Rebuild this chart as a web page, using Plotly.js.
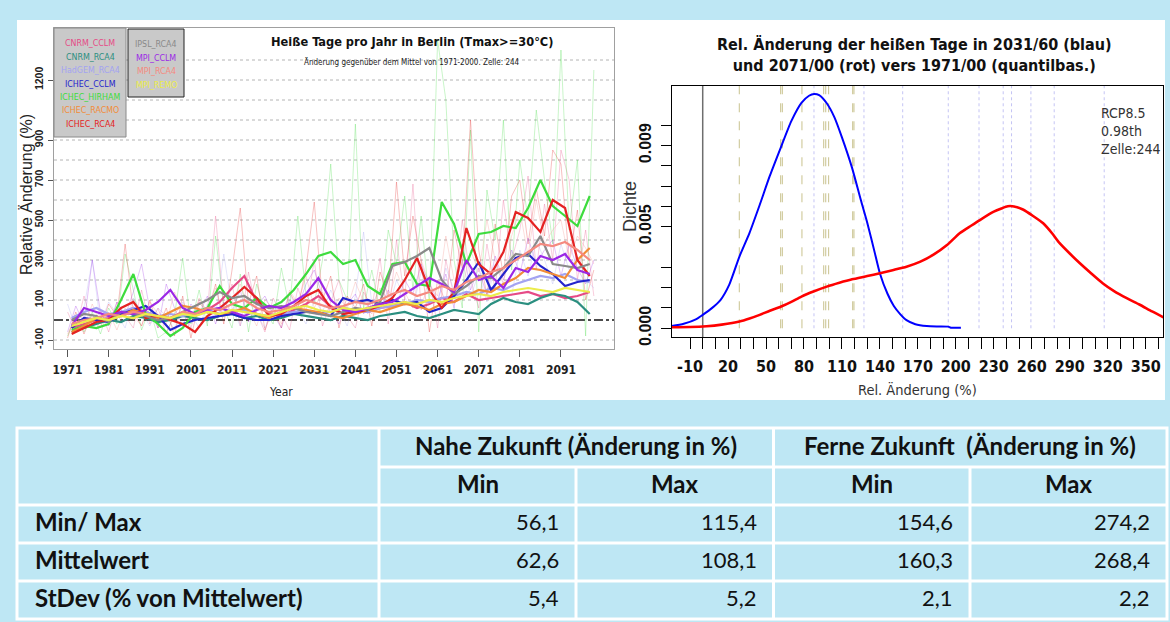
<!DOCTYPE html>
<html><head><meta charset="utf-8">
<script src="https://cdn.plot.ly/plotly-3.0.1.min.js"></script>
<style>html,body{margin:0;padding:0;background:rgb(190,231,244);} #chart{width:1170px;height:622px;}</style>
</head><body><div id="chart"></div>
<script>
// ---------------- DATA ----------------
// Left chart: relative change of hot days (%), 11 regional models
const modelNames = ['CNRM_CCLM','CNRM_RCA4','HadGEM_RCA4','ICHEC_CCLM','ICHEC_HIRHAM','ICHEC_RACMO','ICHEC_RCA4','IPSL_RCA4','MPI_CCLM','MPI_RCA4','MPI_REMO'];
const modelColors = ['#e64a86','#2b8f80','#a3a3f2','#2424cc','#3ddc3d','#f28c38','#e42222','#8a8a8a','#9b28e6','#f58a80','#ecec4a'];

// smoothed (running mean) values, every 3 years
const smoothYears = [1972,1975,1978,1981,1984,1987,1990,1993,1996,1999,2002,2005,2008,2011,2014,2017,2020,2023,2026,2029,2032,2035,2038,2041,2044,2047,2050,2053,2056,2059,2062,2065,2068,2071,2074,2077,2080,2083,2086,2089,2092,2095,2098];
const smCnrmCclm  = [-40,-20,0,10,30,60,40,20,10,30,20,50,90,160,220,90,30,20,50,80,120,70,30,50,40,60,70,90,60,80,110,90,130,100,110,120,130,140,120,130,110,120,140];
const smCnrmRca4  = [-60,-40,-20,0,-10,20,10,-10,0,20,10,0,20,30,10,20,0,10,30,20,10,0,20,10,0,20,30,40,20,10,30,50,40,30,80,110,90,80,110,130,120,90,30];
const smHadgemRca4= [10,40,60,30,40,60,40,20,30,20,40,50,30,40,50,30,20,30,40,50,30,40,60,50,40,60,70,80,100,90,110,120,140,130,160,150,180,200,220,210,230,200,190];
const smIchecCclm = [-40,10,0,-10,30,50,70,20,-50,-20,0,10,20,30,10,0,0,20,30,40,40,20,110,90,100,80,100,80,90,40,60,120,200,290,150,230,310,330,270,230,170,190,200];
const smIchecHirham=[-50,-30,-40,-20,100,230,30,-20,-80,-40,40,60,170,80,60,110,60,90,150,230,320,340,280,300,170,130,280,290,180,170,590,480,280,430,440,470,460,560,700,570,520,470,620];
const smIchecRacmo= [-60,-30,10,0,20,50,30,10,40,70,60,40,30,40,60,30,10,40,60,50,40,20,10,30,50,40,60,80,70,50,80,90,120,150,140,180,210,260,250,230,210,300,360];
const smIchecRca4 = [-70,-40,-10,0,60,90,10,20,0,-20,-60,20,60,110,165,110,20,30,70,120,150,60,30,40,50,70,110,200,310,150,60,140,460,280,230,340,540,510,440,600,560,300,220];
const smIpslRca4  = [0,30,20,-10,40,30,20,0,10,40,70,100,140,110,120,80,60,70,60,40,30,20,40,60,50,90,270,290,320,360,200,130,170,220,210,260,330,320,420,280,270,260,280];
const smMpiCclm   = [-30,60,40,20,40,30,50,90,150,60,30,50,60,40,20,50,70,60,90,130,210,100,50,40,60,80,90,130,170,210,180,140,300,200,220,160,260,240,320,300,330,250,230];
const smMpiRca4   = [-20,0,10,30,20,40,30,20,10,40,30,60,50,80,100,60,40,50,70,100,80,60,70,90,80,100,130,150,120,140,170,150,190,210,240,260,300,340,380,370,390,350,300];
const smMpiRemo   = [-30,-10,10,0,20,10,30,20,10,30,20,40,30,50,40,30,20,40,60,70,50,40,60,50,60,70,80,90,80,100,90,110,120,130,120,140,150,160,150,140,160,150,140];

// raw (faint) yearly values, every 2 years, for some models
const rawYears = [1971,1973,1975,1977,1979,1981,1983,1985,1987,1989,1991,1993,1995,1997,1999,2001,2003,2005,2007,2009,2011,2013,2015,2017,2019,2021,2023,2025,2027,2029,2031,2033,2035,2037,2039,2041,2043,2045,2047,2049,2051,2053,2055,2057,2059,2061,2063,2065,2067,2069,2071,2073,2075,2077,2079,2081,2083,2085,2087,2089,2091,2093,2095,2097,2099];
const rawIchecHirham=[-80,20,-60,40,-70,60,-20,330,150,-50,60,-90,-60,20,310,-20,150,-30,420,60,-40,230,-60,180,40,-20,260,60,520,120,80,300,780,200,100,980,60,250,40,450,280,620,150,520,80,1400,1100,300,60,950,-60,650,400,1000,250,800,500,1050,700,380,1350,450,800,-80,1250];
const rawIchecRca4 = [-90,40,-70,30,-40,80,20,380,40,-30,100,-40,60,-80,120,-90,90,30,180,-20,250,560,80,220,-50,60,-40,140,60,260,590,100,220,-40,120,60,180,-30,240,120,690,220,520,300,-60,200,80,450,260,1000,350,120,480,220,620,700,380,660,420,850,780,300,550,100,250];
const rawCnrmCclm  = [40,-50,120,-30,50,-60,90,20,-40,150,-20,60,-70,30,80,-40,100,40,520,60,180,-30,240,40,-60,110,30,-50,160,40,300,-30,90,200,20,-40,140,60,310,-20,400,100,680,50,220,-40,300,120,500,200,60,380,150,600,300,450,720,250,580,300,850,700,200,450,120];
const rawMpiCclm   = [-60,70,-20,300,40,-30,90,20,140,280,50,-40,180,60,-30,80,30,120,-20,90,40,150,-10,70,120,30,-40,100,60,180,250,120,40,-20,80,130,30,100,60,150,70,200,130,280,180,100,230,60,380,150,260,120,320,200,350,230,410,280,350,400,220,380,260,180,300];
const rawMpiRca4   = [-70,20,-40,80,-20,40,-50,60,20,-30,90,30,-20,140,60,-10,110,40,160,20,90,180,50,-30,100,60,-20,150,80,220,60,140,30,110,60,190,90,30,160,100,240,140,60,300,180,120,420,200,150,350,240,500,300,180,420,550,320,600,380,450,500,300,420,360,280];
const rawHadgemRca4= [80,-40,60,300,-20,90,30,-40,110,40,-30,60,20,-50,90,30,-40,80,20,330,60,-30,90,30,-40,70,20,130,50,-20,100,40,150,60,-30,120,440,80,150,50,200,110,60,240,130,80,260,150,300,120,230,90,280,180,120,350,220,400,300,180,380,250,320,200,160];

const leftXTickVals = [1971,1981,1991,2001,2011,2021,2031,2041,2051,2061,2071,2081,2091];
const leftYTickVals = [-100,100,300,500,700,900,1200];
const leftYTickText = ['-100','100','300','500','700','900','1200'];
const leftGridVals  = [-100,100,200,300,400,500,600,700,800,900,1000,1100,1200,1300];

// Right chart: density of relative change
const nearX = [-24.5,-15,-5,0,7,14,21,29,37,45,53,62,70,78,84,88,92,98,104,110,118,125,130,136,140,146,151,156,161,168,177,186,194,196,204];
const nearY = [0.00011,0.00022,0.00045,0.00066,0.00098,0.00139,0.00215,0.00353,0.0047,0.00607,0.0075,0.00895,0.0102,0.0111,0.01145,0.01154,0.01148,0.01108,0.0104,0.0094,0.0079,0.0063,0.0052,0.0037,0.0027,0.0017,0.0011,0.0007,0.0004,0.0002,0.00011,0.00009,0.00008,0.00003,0.00003];
const farX  = [-24.5,-10,3,15,29,37,45,53,62,70,78,88,98,108,118,130,140,150,161,172,182,193,203,212,219,230,236,241,246,253,261,269,276,282,290,298,307,316,325,335,345,355,364];
const farY  = [0.00005,0.00006,0.0001,0.00018,0.00033,0.00048,0.00066,0.00086,0.00107,0.0013,0.00156,0.00182,0.00205,0.00224,0.00241,0.00257,0.00271,0.00286,0.00303,0.00328,0.00361,0.0041,0.00468,0.00505,0.00533,0.00574,0.0059,0.00601,0.006,0.00585,0.00553,0.00517,0.00468,0.00419,0.00368,0.0032,0.0027,0.00222,0.00183,0.00148,0.00117,0.00083,0.00054];
const nearModelValues = [28.9,61.6,62.9,78.4,95.6,97.2,99.5,118.5,119.5];
const farModelValues  = [87.9,127.4,158,194,218.3,237.4,244,259.3,277.7,317.2];
const rightXTickVals = [-10,0,10,20,30,40,50,60,70,80,90,100,110,120,130,140,150,160,170,180,190,200,210,220,230,240,250,260,270,280,290,300,310,320,330,340,350,360];
const rightXTickText = ['-10','','','20','','','50','','','80','','','110','','','140','','','170','','','200','','','230','','','260','','','290','','','320','','','350',''];
const rightYTickVals = [0,0.001,0.002,0.003,0.005,0.006,0.007,0.008,0.009,0.010];
const rightYTickText = ['0.000','','','','0.005','','','','0.009',''];
const infoLines = ['RCP8.5','0.98th','Zelle:244'];

// Table
const tableGroups = ['Nahe Zukunft (Änderung in %)','Ferne Zukunft  (Änderung in %)'];
const tableSubHeads = ['Min','Max','Min','Max'];
const tableRowLabels = ['Min/ Max','Mittelwert','StDev (% von Mittelwert)'];
const naheMin  = [56.1,62.6,5.4];
const naheMax  = [115.4,108.1,5.2];
const ferneMin = [154.6,160.3,2.1];
const ferneMax = [274.2,268.4,2.2];

// ---------------- LAYOUT HELPERS ----------------
const W=1170,H=622;
const px=x=>x/W, py=y=>1-y/H;
const BG='rgb(190,231,244)';
const NARROW='"DejaVu Sans Condensed",sans-serif';
const SANS='"Liberation Sans",Arial,sans-serif';
const TFONT='Lato,"Open Sans",sans-serif';
function rgba(hex,a){const n=parseInt(hex.slice(1),16);return `rgba(${n>>16&255},${n>>8&255},${n&255},${a})`;}
function ann(text,x,y,o){return Object.assign({text:text,x:px(x),y:py(y),xref:'paper',yref:'paper',showarrow:false,xanchor:'center',yanchor:'middle'},o||{});}

const traces=[];
const rawMap={ICHEC_HIRHAM:rawIchecHirham,ICHEC_RCA4:rawIchecRca4,CNRM_CCLM:rawCnrmCclm,MPI_CCLM:rawMpiCclm,MPI_RCA4:rawMpiRca4,HadGEM_RCA4:rawHadgemRca4};
const smooth=[smCnrmCclm,smCnrmRca4,smHadgemRca4,smIchecCclm,smIchecHirham,smIchecRacmo,smIchecRca4,smIpslRca4,smMpiCclm,smMpiRca4,smMpiRemo];
modelNames.forEach((m,i)=>{ if(rawMap[m]) traces.push({type:'scatter',mode:'lines',x:rawYears,y:rawMap[m],xaxis:'x',yaxis:'y',line:{color:rgba(modelColors[i],0.28),width:1},hoverinfo:'skip',showlegend:false}); });
modelNames.forEach((m,i)=>{ traces.push({type:'scatter',mode:'lines',name:m,x:smoothYears,y:smooth[i],xaxis:'x',yaxis:'y',line:{color:modelColors[i],width:2.2},showlegend:false}); });
traces.push({type:'scatter',mode:'lines',x:nearX,y:nearY,xaxis:'x2',yaxis:'y2',line:{color:'#0000ff',width:2,shape:'spline',smoothing:0.6},showlegend:false});
traces.push({type:'scatter',mode:'lines',x:farX,y:farY,xaxis:'x2',yaxis:'y2',line:{color:'#ff0000',width:2.6,shape:'spline',smoothing:0.6},showlegend:false});

const shapes=[];
shapes.push({type:'rect',xref:'paper',yref:'paper',x0:px(17),x1:px(1165),y0:py(400),y1:py(20),fillcolor:'white',line:{width:0},layer:'below'});
leftGridVals.forEach(v=>shapes.push({type:'line',xref:'x domain',yref:'y',x0:0,x1:1,y0:v,y1:v,line:{color:'#b4b4b4',width:1,dash:'dot'},layer:'below'}));
shapes.push({type:'line',xref:'x domain',yref:'y',x0:0,x1:1,y0:0,y1:0,line:{color:'#111',width:1.3,dash:'dashdot'},layer:'below'});
shapes.push({type:'rect',xref:'paper',yref:'paper',x0:px(54),x1:px(126),y0:py(137),y1:py(28),fillcolor:'#c9c9c9',line:{color:'#8a8a8a',width:1}});
shapes.push({type:'rect',xref:'paper',yref:'paper',x0:px(128),x1:px(184),y0:py(97),y1:py(29),fillcolor:'#c9c9c9',line:{color:'#222',width:1}});
shapes.push({type:'line',xref:'x2',yref:'y2 domain',x0:0,x1:0,y0:0,y1:1,line:{color:'#6e6e6e',width:1.5},layer:'below'});
nearModelValues.forEach(v=>shapes.push({type:'line',xref:'x2',yref:'y2',x0:v,x1:v,y0:0,y1:0.01193,line:{color:'#c9c28e',width:1,dash:'dash'},layer:'below'}));
farModelValues.forEach(v=>shapes.push({type:'line',xref:'x2',yref:'y2',x0:v,x1:v,y0:0,y1:0.01193,line:{color:'#c4c4f4',width:1,dash:'dot'},layer:'below'}));

const colE=[17,379,576,773.5,970,1167], rowE=[428,467,505,543,581,619];
shapes.push({type:'rect',xref:'paper',yref:'paper',x0:px(15.5),x1:px(1168.5),y0:py(620.5),y1:py(426.5),fillcolor:'white',line:{width:0}});
function cell(c0,c1,r0,r1){shapes.push({type:'rect',xref:'paper',yref:'paper',x0:px(colE[c0]+1.5),x1:px(colE[c1]-1.5),y0:py(rowE[r1]-1.5),y1:py(rowE[r0]+1.5),fillcolor:BG,line:{width:0}});}
cell(0,1,0,2); cell(1,3,0,1); cell(3,5,0,1);
for(let c=1;c<5;c++) cell(c,c+1,1,2);
for(let r=2;r<5;r++) for(let c=0;c<5;c++) cell(c,c+1,r,r+1);

const annotations=[];
annotations.push(ann('Heiße Tage pro Jahr in Berlin (Tmax>=30°C)',412,41,{font:{family:NARROW,size:12.7,color:'#111',weight:'bold'}}));
annotations.push(ann('Änderung gegenüber dem Mittel von 1971-2000. Zelle: 244',412,62,{font:{family:NARROW,size:8,color:'#222'}}));
annotations.push(ann('Relative Änderung (%)',27,195,{textangle:-90,font:{family:SANS,size:16,color:'#222'}}));
annotations.push(ann('Year',281,392,{font:{family:NARROW,size:12,color:'#222'}}));
const legY1=[43,56.5,70,83.5,97,110.5,124];
modelNames.forEach((m,i)=>{
  if(i<7) annotations.push(ann(m,90,legY1[i],{font:{family:NARROW,size:8.8,color:modelColors[i]}}));
  else annotations.push(ann(m,156,44+(i-7)*13.5,{font:{family:NARROW,size:8.8,color:modelColors[i]}}));
});
annotations.push(ann('Rel. Änderung der heißen Tage in 2031/60 (blau)<br>und 2071/00 (rot) vers 1971/00 (quantilbas.)',914,55,{font:{family:NARROW,size:16,color:'#111',weight:'bold'}}));
annotations.push(ann('Dichte',630,207,{textangle:-90,font:{family:SANS,size:18,color:'#333'}}));
annotations.push(ann('Rel. Änderung (%)',917,389,{font:{family:NARROW,size:14.5,color:'#333'}}));
annotations.push(ann(infoLines.join('<br>'),1099,131,{xanchor:'left',align:'left',font:{family:NARROW,size:14,color:'#333'}}));
const fmt=v=>v.toFixed(1).replace('.',',');
tableGroups.forEach((g,i)=>annotations.push(ann(g,(colE[1+2*i]+colE[3+2*i])/2,445,{font:{family:TFONT,size:24,color:'#111',weight:'bold'}})));
tableSubHeads.forEach((s,i)=>annotations.push(ann(s,(colE[1+i]+colE[2+i])/2,483,{font:{family:TFONT,size:24,color:'#111',weight:'bold'}})));
const cols=[naheMin,naheMax,ferneMin,ferneMax];
tableRowLabels.forEach((l,r)=>{
  const yc=(rowE[2+r]+rowE[3+r])/2-3;
  annotations.push(ann(l,33,yc,{xanchor:'left',font:{family:TFONT,size:24,color:'#111',weight:'bold'}}));
  cols.forEach((arr,c)=>annotations.push(ann(fmt(arr[r]),colE[2+c]-15,yc,{xanchor:'right',font:{family:TFONT,size:22,color:'#111'}})));
});

const layout={
  width:W,height:H,margin:{l:0,r:0,t:0,b:0},paper_bgcolor:BG,plot_bgcolor:'white',showlegend:false,
  xaxis:{domain:[px(54),px(614)],range:[1967.7,2103.9],tickvals:leftXTickVals,ticks:'outside',ticklen:7,tickcolor:'#555',showline:true,mirror:true,linecolor:'#a0a0a0',showgrid:false,zeroline:false,automargin:false,tickfont:{family:NARROW,size:12,color:'#222',weight:'bold'},ticklabelstandoff:3},
  yaxis:{domain:[py(349),py(28)],range:[-145,1460],tickvals:leftYTickVals,ticktext:leftYTickText,tickangle:-90,ticks:'outside',ticklen:5,tickcolor:'#555',showline:true,mirror:true,linecolor:'#a0a0a0',showgrid:false,zeroline:false,automargin:false,tickfont:{family:SANS,size:10.5,color:'#222',weight:'bold'},ticklabelstandoff:1},
  xaxis2:{domain:[px(671.7),px(1163.3)],range:[-24.5,363.9],tickvals:rightXTickVals,ticktext:rightXTickText,ticks:'outside',ticklen:11,tickcolor:'#000',showline:true,mirror:true,linecolor:'#000',showgrid:false,zeroline:false,automargin:false,anchor:'y2',tickfont:{family:NARROW,size:16,color:'#111',weight:'bold'},ticklabelstandoff:4},
  yaxis2:{domain:[py(337),py(86)],range:[-0.00043,0.01193],tickvals:rightYTickVals,ticktext:rightYTickText,tickangle:-90,ticks:'outside',ticklen:10,tickcolor:'#000',showline:true,mirror:true,linecolor:'#000',showgrid:false,zeroline:false,automargin:false,anchor:'x2',tickfont:{family:SANS,size:16,color:'#111',weight:'bold'},ticklabelstandoff:3},
  shapes:shapes,annotations:annotations
};
Plotly.newPlot('chart',traces,layout,{staticPlot:true,displayModeBar:false});
</script></body></html>
